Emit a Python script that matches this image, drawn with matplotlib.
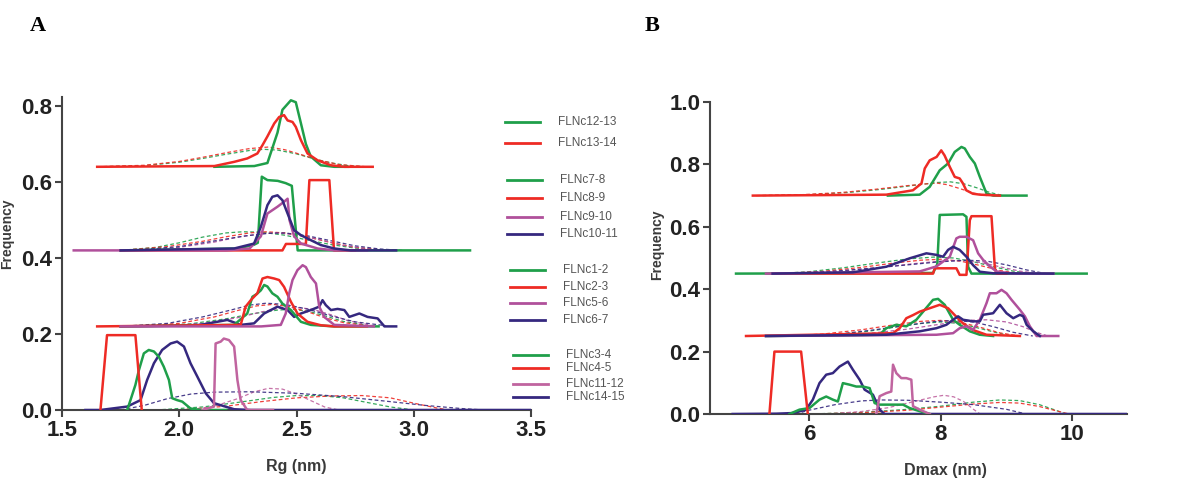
import matplotlib
matplotlib.use("Agg")
import matplotlib.pyplot as plt
from matplotlib.lines import Line2D

# colores de las series
GREEN = '#1f9f4a'
RED = '#ee2b25'
MAGENTA = '#b0509b'
PINK = '#c0649f'
NAVY = '#35287f'

# ---------------- Panel A: Rg (nm) ----------------
# grupo 1 (base 0.64)
rg_12_13 = [(2.15, 0.64), (2.32, 0.642), (2.376, 0.65), (2.419, 0.73), (2.44, 0.79), (2.476, 0.815),
            (2.497, 0.81), (2.519, 0.754), (2.54, 0.70), (2.561, 0.667), (2.604, 0.644), (2.661, 0.64), (2.72, 0.64)]
rg_13_14 = [(1.65, 0.64), (2.15, 0.642), (2.234, 0.653), (2.29, 0.662), (2.333, 0.675), (2.355, 0.697),
            (2.376, 0.72), (2.405, 0.754), (2.426, 0.771), (2.447, 0.776), (2.462, 0.762), (2.483, 0.758),
            (2.497, 0.745), (2.519, 0.71), (2.547, 0.675), (2.59, 0.657), (2.647, 0.644), (2.704, 0.64), (2.825, 0.64)]
rg_12_13_fit = [(1.65, 0.64), (1.85, 0.643), (2.0, 0.652), (2.1, 0.662), (2.2, 0.673), (2.3, 0.683), (2.36, 0.686),
                (2.42, 0.684), (2.5, 0.674), (2.58, 0.66), (2.65, 0.65), (2.72, 0.643), (2.8, 0.64)]
rg_13_14_fit = [(1.65, 0.64), (1.85, 0.644), (2.0, 0.654), (2.1, 0.665), (2.2, 0.677), (2.3, 0.688), (2.38, 0.692),
                (2.45, 0.685), (2.52, 0.672), (2.6, 0.657), (2.68, 0.646), (2.8, 0.64)]

# grupo 2 (base 0.42)
rg_7_8 = [(1.75, 0.42), (2.25, 0.425), (2.319, 0.435), (2.335, 0.44), (2.352, 0.614), (2.376, 0.605),
          (2.42, 0.603), (2.454, 0.597), (2.48, 0.59), (2.505, 0.42), (3.24, 0.42)]
rg_8_9 = [(1.75, 0.42), (2.44, 0.42), (2.455, 0.437), (2.54, 0.437), (2.555, 0.605), (2.64, 0.605),
          (2.66, 0.42), (2.75, 0.42)]
rg_9_10 = [(1.55, 0.42), (2.2, 0.42), (2.3, 0.425), (2.348, 0.457), (2.376, 0.517), (2.419, 0.535),
           (2.447, 0.548), (2.462, 0.556), (2.47, 0.5), (2.49, 0.457), (2.519, 0.438), (2.59, 0.425),
           (2.661, 0.42), (2.8, 0.42)]
rg_10_11 = [(1.75, 0.42), (2.234, 0.425), (2.319, 0.438), (2.348, 0.482), (2.376, 0.539), (2.397, 0.561),
            (2.419, 0.565), (2.44, 0.552), (2.462, 0.517), (2.49, 0.473), (2.519, 0.46), (2.561, 0.447),
            (2.604, 0.434), (2.661, 0.425), (2.732, 0.42), (2.925, 0.42)]
rg_7_8_fit = [(1.75, 0.42), (1.9, 0.428), (2.0, 0.44), (2.1, 0.455), (2.2, 0.466), (2.27, 0.469), (2.35, 0.468),
              (2.45, 0.46), (2.55, 0.447), (2.65, 0.435), (2.75, 0.426), (2.9, 0.42)]
rg_8_9_fit = [(1.75, 0.42), (1.95, 0.43), (2.1, 0.444), (2.2, 0.456), (2.3, 0.466), (2.37, 0.469), (2.45, 0.466),
              (2.55, 0.455), (2.65, 0.44), (2.75, 0.428), (2.85, 0.422)]
rg_9_10_fit = [(1.8, 0.42), (2.0, 0.428), (2.15, 0.442), (2.25, 0.455), (2.35, 0.464), (2.42, 0.466), (2.5, 0.461),
               (2.6, 0.448), (2.7, 0.433), (2.8, 0.424), (2.9, 0.42)]
rg_10_11_fit = [(1.8, 0.42), (2.0, 0.43), (2.15, 0.445), (2.28, 0.458), (2.38, 0.465), (2.45, 0.466), (2.55, 0.458),
                (2.65, 0.445), (2.75, 0.432), (2.85, 0.424), (2.95, 0.42)]

# grupo 3 (base 0.22)
rg_1_2 = [(1.75, 0.22), (2.234, 0.224), (2.29, 0.254), (2.312, 0.298), (2.33, 0.305), (2.348, 0.315),
          (2.362, 0.329), (2.376, 0.325), (2.397, 0.307), (2.419, 0.298), (2.44, 0.28), (2.476, 0.263),
          (2.519, 0.232), (2.561, 0.224), (2.66, 0.22), (2.85, 0.22)]
rg_2_3 = [(1.65, 0.22), (2.262, 0.224), (2.283, 0.272), (2.305, 0.289), (2.333, 0.307), (2.355, 0.346),
          (2.376, 0.35), (2.405, 0.346), (2.426, 0.342), (2.447, 0.324), (2.476, 0.285), (2.504, 0.254),
          (2.547, 0.232), (2.604, 0.223), (2.66, 0.22), (2.8, 0.22)]
rg_5_6 = [(1.75, 0.22), (2.35, 0.22), (2.433, 0.224), (2.454, 0.254), (2.469, 0.307), (2.483, 0.342),
          (2.504, 0.368), (2.526, 0.381), (2.54, 0.376), (2.561, 0.35), (2.583, 0.333), (2.597, 0.272),
          (2.618, 0.245), (2.661, 0.224), (2.83, 0.22)]
rg_6_7 = [(1.75, 0.22), (2.0, 0.222), (2.091, 0.224), (2.205, 0.237), (2.262, 0.224), (2.319, 0.228),
          (2.362, 0.254), (2.419, 0.272), (2.462, 0.263), (2.49, 0.245), (2.519, 0.254), (2.561, 0.263),
          (2.597, 0.272), (2.611, 0.289), (2.625, 0.276), (2.647, 0.263), (2.675, 0.266), (2.704, 0.263),
          (2.725, 0.245), (2.768, 0.254), (2.803, 0.245), (2.846, 0.241), (2.875, 0.22), (2.925, 0.22)]
rg_1_2_fit = [(1.85, 0.22), (2.05, 0.227), (2.2, 0.24), (2.32, 0.254), (2.42, 0.263), (2.48, 0.265), (2.55, 0.26),
              (2.62, 0.248), (2.7, 0.233), (2.8, 0.223)]
rg_2_3_fit = [(1.8, 0.22), (2.0, 0.228), (2.15, 0.245), (2.25, 0.262), (2.33, 0.274), (2.4, 0.278), (2.47, 0.272),
              (2.55, 0.258), (2.62, 0.243), (2.7, 0.23), (2.8, 0.222)]
rg_5_6_fit = [(1.9, 0.22), (2.1, 0.228), (2.25, 0.243), (2.35, 0.258), (2.43, 0.268), (2.5, 0.27), (2.57, 0.265),
              (2.65, 0.25), (2.72, 0.235), (2.82, 0.223)]
rg_6_7_fit = [(1.75, 0.22), (1.95, 0.228), (2.1, 0.245), (2.22, 0.263), (2.3, 0.276), (2.37, 0.281), (2.45, 0.278),
              (2.55, 0.265), (2.65, 0.247), (2.75, 0.232), (2.88, 0.222)]

# grupo 4 (base 0)
rg_3_4 = [(1.778, 0.0), (1.792, 0.026), (1.813, 0.066), (1.828, 0.105), (1.849, 0.149), (1.87, 0.158),
          (1.892, 0.154), (1.913, 0.14), (1.934, 0.114), (1.956, 0.079), (1.97, 0.031), (1.991, 0.026),
          (2.013, 0.022), (2.048, 0.004), (2.091, 0.0), (2.2, 0.0)]
rg_4_5 = [(1.664, 0.0), (1.692, 0.197), (1.813, 0.197), (1.84, 0.0)]
rg_11_12 = [(2.1, 0.0), (2.148, 0.009), (2.155, 0.175), (2.177, 0.18), (2.19, 0.188), (2.212, 0.184),
            (2.234, 0.167), (2.248, 0.079), (2.262, 0.026), (2.29, 0.0), (2.4, 0.0)]
rg_14_15 = [(1.6, 0.0), (1.664, 0.0), (1.778, 0.009), (1.835, 0.026), (1.863, 0.079), (1.892, 0.123),
            (1.927, 0.158), (1.963, 0.175), (1.991, 0.18), (2.02, 0.167), (2.048, 0.123), (2.077, 0.088),
            (2.113, 0.044), (2.148, 0.018), (2.234, 0.002), (2.305, 0.0), (3.5, 0.0)]
rg_3_4_fit = [(1.9, 0.0), (2.1, 0.008), (2.25, 0.02), (2.4, 0.033), (2.5, 0.038), (2.6, 0.038), (2.7, 0.032),
              (2.8, 0.02), (2.9, 0.008), (3.0, 0.0)]
rg_4_5_fit = [(2.0, 0.0), (2.2, 0.01), (2.35, 0.022), (2.5, 0.032), (2.65, 0.037), (2.78, 0.038), (2.9, 0.032),
              (3.0, 0.018), (3.1, 0.005), (3.15, 0.0)]
rg_11_12_fit = [(2.05, 0.0), (2.15, 0.01), (2.25, 0.03), (2.32, 0.048), (2.38, 0.057), (2.44, 0.055), (2.5, 0.042),
                (2.56, 0.025), (2.62, 0.008), (2.68, 0.0)]
rg_14_15_fit = [(1.75, 0.0), (1.85, 0.012), (1.95, 0.03), (2.05, 0.042), (2.15, 0.047), (2.3, 0.048), (2.5, 0.044),
                (2.7, 0.035), (2.9, 0.022), (3.05, 0.012), (3.2, 0.004), (3.3, 0.0)]

# ---------------- Panel B: Dmax (nm) ----------------
dm_12_13 = [(7.2, 0.70), (7.683, 0.703), (7.835, 0.728), (7.987, 0.781), (8.114, 0.803), (8.215, 0.84),
            (8.317, 0.856), (8.368, 0.851), (8.444, 0.824), (8.52, 0.803), (8.596, 0.76), (8.697, 0.707),
            (8.8, 0.70), (9.305, 0.70)]
dm_13_14 = [(5.15, 0.70), (7.176, 0.703), (7.58, 0.717), (7.71, 0.739), (7.76, 0.787), (7.835, 0.813),
            (7.94, 0.824), (8.01, 0.845), (8.06, 0.829), (8.14, 0.792), (8.215, 0.76), (8.29, 0.755),
            (8.34, 0.739), (8.39, 0.717), (8.49, 0.706), (8.6, 0.703), (8.9, 0.70)]
dm_12_13_fit = [(5.3, 0.70), (6.0, 0.703), (6.6, 0.71), (7.1, 0.72), (7.6, 0.733), (7.95, 0.742), (8.15, 0.744),
                (8.35, 0.738), (8.55, 0.725), (8.75, 0.71), (8.95, 0.70)]
dm_13_14_fit = [(5.2, 0.70), (5.9, 0.703), (6.5, 0.71), (7.0, 0.72), (7.5, 0.732), (7.8, 0.738), (7.95, 0.74),
                (8.1, 0.735), (8.3, 0.722), (8.5, 0.708), (8.7, 0.70)]

dm_7_8 = [(4.895, 0.45), (7.886, 0.452), (7.95, 0.48), (7.987, 0.638), (8.342, 0.64), (8.393, 0.632),
          (8.418, 0.472), (8.469, 0.45), (10.218, 0.45)]
dm_8_9 = [(5.45, 0.45), (7.886, 0.45), (7.911, 0.467), (8.24, 0.467), (8.29, 0.446), (8.393, 0.446),
          (8.444, 0.621), (8.469, 0.634), (8.773, 0.634), (8.824, 0.467), (8.849, 0.45), (9.0, 0.45)]
dm_9_10 = [(5.35, 0.45), (7.683, 0.457), (7.937, 0.473), (8.14, 0.504), (8.24, 0.563), (8.29, 0.568),
           (8.393, 0.568), (8.494, 0.557), (8.57, 0.515), (8.646, 0.494), (8.748, 0.473), (8.849, 0.457),
           (9.1, 0.45), (9.711, 0.45)]
dm_10_11 = [(5.45, 0.45), (6.669, 0.454), (7.176, 0.472), (7.531, 0.499), (7.785, 0.515), (7.937, 0.51),
            (8.038, 0.504), (8.114, 0.526), (8.19, 0.536), (8.29, 0.526), (8.393, 0.504), (8.494, 0.477),
            (8.596, 0.456), (8.798, 0.451), (9.711, 0.45)]
dm_7_8_fit = [(5.5, 0.45), (6.0, 0.456), (6.5, 0.468), (7.0, 0.483), (7.5, 0.497), (7.9, 0.503), (8.2, 0.5),
              (8.5, 0.488), (8.8, 0.472), (9.1, 0.458), (9.4, 0.45)]
dm_8_9_fit = [(5.6, 0.45), (6.2, 0.457), (6.8, 0.47), (7.3, 0.484), (7.7, 0.493), (8.0, 0.496), (8.3, 0.49),
              (8.6, 0.476), (8.9, 0.46), (9.2, 0.45)]
dm_9_10_fit = [(5.8, 0.45), (6.5, 0.458), (7.1, 0.47), (7.6, 0.482), (8.0, 0.49), (8.3, 0.492), (8.6, 0.486),
               (8.9, 0.472), (9.2, 0.458), (9.5, 0.45)]
dm_10_11_fit = [(5.7, 0.45), (6.4, 0.458), (7.0, 0.468), (7.5, 0.478), (8.0, 0.488), (8.4, 0.493), (8.7, 0.49),
                (9.0, 0.478), (9.3, 0.462), (9.6, 0.45)]

dm_1_2 = [(5.35, 0.25), (7.075, 0.254), (7.176, 0.275), (7.328, 0.286), (7.48, 0.281), (7.632, 0.302),
          (7.759, 0.334), (7.886, 0.366), (7.962, 0.369), (8.063, 0.35), (8.19, 0.302), (8.29, 0.286),
          (8.444, 0.265), (8.596, 0.254), (8.798, 0.25)]
dm_2_3 = [(5.047, 0.25), (7.278, 0.259), (7.379, 0.275), (7.48, 0.307), (7.582, 0.317), (7.683, 0.328),
          (7.835, 0.339), (7.987, 0.35), (8.114, 0.339), (8.215, 0.317), (8.342, 0.29), (8.494, 0.269),
          (8.697, 0.254), (9.204, 0.25)]
dm_5_6 = [(5.35, 0.25), (7.937, 0.254), (8.19, 0.259), (8.29, 0.275), (8.393, 0.281), (8.494, 0.27),
          (8.596, 0.302), (8.697, 0.355), (8.748, 0.387), (8.849, 0.387), (8.925, 0.398), (9.001, 0.387),
          (9.077, 0.366), (9.204, 0.334), (9.28, 0.313), (9.356, 0.281), (9.458, 0.25), (9.787, 0.25)]
dm_6_7 = [(5.35, 0.25), (7.176, 0.254), (7.683, 0.265), (7.937, 0.275), (8.089, 0.286), (8.19, 0.302),
          (8.266, 0.313), (8.342, 0.302), (8.494, 0.297), (8.596, 0.297), (8.646, 0.318), (8.798, 0.323),
          (8.9, 0.35), (9.001, 0.323), (9.103, 0.307), (9.204, 0.318), (9.255, 0.313), (9.306, 0.286),
          (9.407, 0.265), (9.508, 0.25)]
dm_1_2_fit = [(5.8, 0.25), (6.4, 0.255), (6.9, 0.265), (7.3, 0.278), (7.7, 0.29), (8.0, 0.295), (8.3, 0.29),
              (8.6, 0.274), (8.9, 0.258), (9.1, 0.25)]
dm_2_3_fit = [(5.6, 0.25), (6.2, 0.256), (6.8, 0.27), (7.3, 0.286), (7.7, 0.297), (8.0, 0.3), (8.3, 0.294),
              (8.6, 0.278), (8.9, 0.26), (9.2, 0.25)]
dm_5_6_fit = [(6.2, 0.25), (6.9, 0.258), (7.5, 0.272), (8.0, 0.288), (8.4, 0.3), (8.7, 0.302), (9.0, 0.295),
              (9.25, 0.28), (9.45, 0.262), (9.6, 0.252)]
dm_6_7_fit = [(5.9, 0.25), (6.5, 0.257), (7.0, 0.27), (7.5, 0.285), (7.9, 0.296), (8.2, 0.3), (8.5, 0.295),
              (8.8, 0.28), (9.1, 0.262), (9.4, 0.25)]

dm_3_4 = [(5.706, 0.0), (5.858, 0.014), (6.01, 0.019), (6.162, 0.046), (6.264, 0.056), (6.365, 0.046),
          (6.441, 0.04), (6.517, 0.099), (6.619, 0.094), (6.72, 0.088), (6.821, 0.088), (6.923, 0.083),
          (6.999, 0.035), (7.075, 0.03), (7.43, 0.03), (7.531, 0.019), (7.683, 0.009), (7.835, 0.0)]
dm_4_5 = [(5.402, 0.0), (5.478, 0.2), (5.883, 0.2), (5.985, 0.0)]
dm_11_12 = [(7.024, 0.0), (7.075, 0.057), (7.176, 0.067), (7.252, 0.072), (7.278, 0.158), (7.328, 0.131),
            (7.404, 0.115), (7.48, 0.115), (7.556, 0.11), (7.582, 0.025), (7.683, 0.014), (7.835, 0.0)]
dm_14_15 = [(4.844, 0.0), (5.503, 0.001), (5.757, 0.003), (5.959, 0.014), (6.061, 0.046), (6.162, 0.099),
            (6.264, 0.126), (6.365, 0.131), (6.466, 0.152), (6.593, 0.168), (6.669, 0.142), (6.771, 0.11),
            (6.847, 0.078), (6.973, 0.062), (7.075, 0.014), (7.151, 0.0), (10.826, 0.0)]
dm_3_4_fit = [(6.0, 0.0), (6.8, 0.005), (7.5, 0.015), (8.0, 0.025), (8.5, 0.038), (8.9, 0.045), (9.2, 0.043),
              (9.5, 0.03), (9.75, 0.012), (9.9, 0.0)]
dm_4_5_fit = [(6.0, 0.0), (6.8, 0.004), (7.5, 0.012), (8.0, 0.022), (8.5, 0.032), (8.9, 0.037), (9.2, 0.035),
              (9.5, 0.024), (9.8, 0.008), (9.95, 0.0)]
dm_11_12_fit = [(6.3, 0.0), (6.8, 0.008), (7.2, 0.02), (7.6, 0.04), (7.9, 0.055), (8.05, 0.06), (8.2, 0.055),
                (8.35, 0.04), (8.5, 0.015), (8.6, 0.0)]
dm_14_15_fit = [(5.8, 0.0), (6.0, 0.012), (6.4, 0.03), (6.8, 0.042), (7.1, 0.045), (7.5, 0.044), (8.0, 0.038),
                (8.5, 0.03), (9.0, 0.015), (9.3, 0.0)]

# leyenda: grupos de etiquetas
legend_groups = [
    [('FLNc12-13', GREEN), ('FLNc13-14', RED)],
    [('FLNc7-8', GREEN), ('FLNc8-9', RED), ('FLNc9-10', MAGENTA), ('FLNc10-11', NAVY)],
    [('FLNc1-2', GREEN), ('FLNc2-3', RED), ('FLNc5-6', MAGENTA), ('FLNc6-7', NAVY)],
    [('FLNc3-4', GREEN), ('FLNc4-5', RED), ('FLNc11-12', PINK), ('FLNc14-15', NAVY)],
]
legend_rows_px = [[122, 143], [180, 198, 217, 234], [270, 287, 303, 320], [355, 368, 384, 397]]
legend_x_px = [505, 507, 510, 513]

plt.rcParams['font.family'] = ['Liberation Sans', 'DejaVu Sans']

fig = plt.figure(figsize=(11.94, 4.8), dpi=100)
axA = fig.add_axes([62 / 1194, 1 - 410 / 480, (531 - 62) / 1194, (410 - 96.5) / 480])
axB = fig.add_axes([710 / 1194, 1 - 414 / 480, (1127 - 710) / 1194, (414 - 102) / 480])


def draw(ax, pts, color, dashed=False):
    xs, ys = zip(*pts)
    if dashed:
        ax.plot(xs, ys, color=color, lw=0.9, ls=(0, (3, 2)), alpha=0.9, zorder=2)
    else:
        ax.plot(xs, ys, color=color, lw=1.8, zorder=3, solid_joinstyle='round')


# panel A
for pts, c in [(rg_12_13_fit, GREEN), (rg_13_14_fit, RED), (rg_7_8_fit, GREEN), (rg_8_9_fit, RED),
               (rg_9_10_fit, MAGENTA), (rg_10_11_fit, NAVY), (rg_1_2_fit, GREEN), (rg_2_3_fit, RED),
               (rg_5_6_fit, MAGENTA), (rg_6_7_fit, NAVY), (rg_3_4_fit, GREEN), (rg_4_5_fit, RED),
               (rg_11_12_fit, PINK), (rg_14_15_fit, NAVY)]:
    draw(axA, pts, c, dashed=True)
for pts, c in [(rg_12_13, GREEN), (rg_13_14, RED), (rg_7_8, GREEN), (rg_8_9, RED), (rg_9_10, MAGENTA),
               (rg_10_11, NAVY), (rg_6_7, NAVY), (rg_1_2, GREEN), (rg_2_3, RED), (rg_5_6, MAGENTA),
               (rg_14_15, NAVY), (rg_3_4, GREEN), (rg_4_5, RED), (rg_11_12, PINK)]:
    draw(axA, pts, c)

# panel B
for pts, c in [(dm_12_13_fit, GREEN), (dm_13_14_fit, RED), (dm_7_8_fit, GREEN), (dm_8_9_fit, RED),
               (dm_9_10_fit, MAGENTA), (dm_10_11_fit, NAVY), (dm_1_2_fit, GREEN), (dm_2_3_fit, RED),
               (dm_5_6_fit, MAGENTA), (dm_6_7_fit, NAVY), (dm_3_4_fit, GREEN), (dm_4_5_fit, RED),
               (dm_11_12_fit, PINK), (dm_14_15_fit, NAVY)]:
    draw(axB, pts, c, dashed=True)
for pts, c in [(dm_12_13, GREEN), (dm_13_14, RED), (dm_7_8, GREEN), (dm_8_9, RED), (dm_9_10, MAGENTA),
               (dm_10_11, NAVY), (dm_1_2, GREEN), (dm_2_3, RED), (dm_5_6, MAGENTA), (dm_6_7, NAVY),
               (dm_14_15, NAVY), (dm_3_4, GREEN), (dm_4_5, RED), (dm_11_12, PINK)]:
    draw(axB, pts, c)

# ejes
for ax in (axA, axB):
    for s in ('top', 'right'):
        ax.spines[s].set_visible(False)
    for s in ('left', 'bottom'):
        ax.spines[s].set_color('#444444')
        ax.spines[s].set_linewidth(1.5)
    ax.tick_params(direction='out', length=5, width=1.5, color='#444444', labelsize=16, pad=2,
                   labelcolor='#222222')

axA.set_xlim(1.5, 3.5)
axA.set_ylim(0, 0.825)
axA.set_xticks([1.5, 2.0, 2.5, 3.0, 3.5])
axA.set_xticklabels(['1.5', '2.0', '2.5', '3.0', '3.5'], fontweight='bold')
axA.set_yticks([0.0, 0.2, 0.4, 0.6, 0.8])
axA.set_yticklabels(['0.0', '0.2', '0.4', '0.6', '0.8'], fontweight='bold')

axB.set_xlim(4.5, 10.83)
axB.set_ylim(0, 1.0)
axB.set_xticks([6, 8, 10])
axB.set_xticklabels(['6', '8', '10'], fontweight='bold')
axB.set_yticks([0.0, 0.2, 0.4, 0.6, 0.8, 1.0])
axB.set_yticklabels(['0.0', '0.2', '0.4', '0.6', '0.8', '1.0'], fontweight='bold')

# etiquetas
fig.text(296 / 1194, 1 - 467 / 480, 'Rg (nm)', ha='center', va='center', fontsize=11.5,
         fontweight='bold', color='#3a3a3a')
fig.text(945 / 1194, 1 - 470 / 480, 'Dmax (nm)', ha='center', va='center', fontsize=11.5,
         fontweight='bold', color='#3a3a3a')
fig.text(7 / 1194, 1 - 234 / 480, 'Frequency', ha='center', va='center', rotation=90, fontsize=10,
         fontweight='bold', color='#3a3a3a')
fig.text(657 / 1194, 1 - 245 / 480, 'Frequency', ha='center', va='center', rotation=90, fontsize=10,
         fontweight='bold', color='#3a3a3a')
fig.text(38 / 1194, 1 - 26 / 480, 'A', ha='center', va='center', fontsize=16, fontweight='bold',
         family='Liberation Serif')
fig.text(652 / 1194, 1 - 26 / 480, 'B', ha='center', va='center', fontsize=16, fontweight='bold',
         family='Liberation Serif')

# leyenda manual
for group, rows, x0 in zip(legend_groups, legend_rows_px, legend_x_px):
    for (label, c), y in zip(group, rows):
        yf = 1 - y / 480
        fig.add_artist(Line2D([x0 / 1194, (x0 + 35) / 1194], [yf, yf], transform=fig.transFigure,
                              color=c, lw=2))
        fig.text((x0 + 53) / 1194, yf, label, ha='left', va='center', fontsize=8.5, color='#555555')

fig.savefig('out.png', dpi=100)
